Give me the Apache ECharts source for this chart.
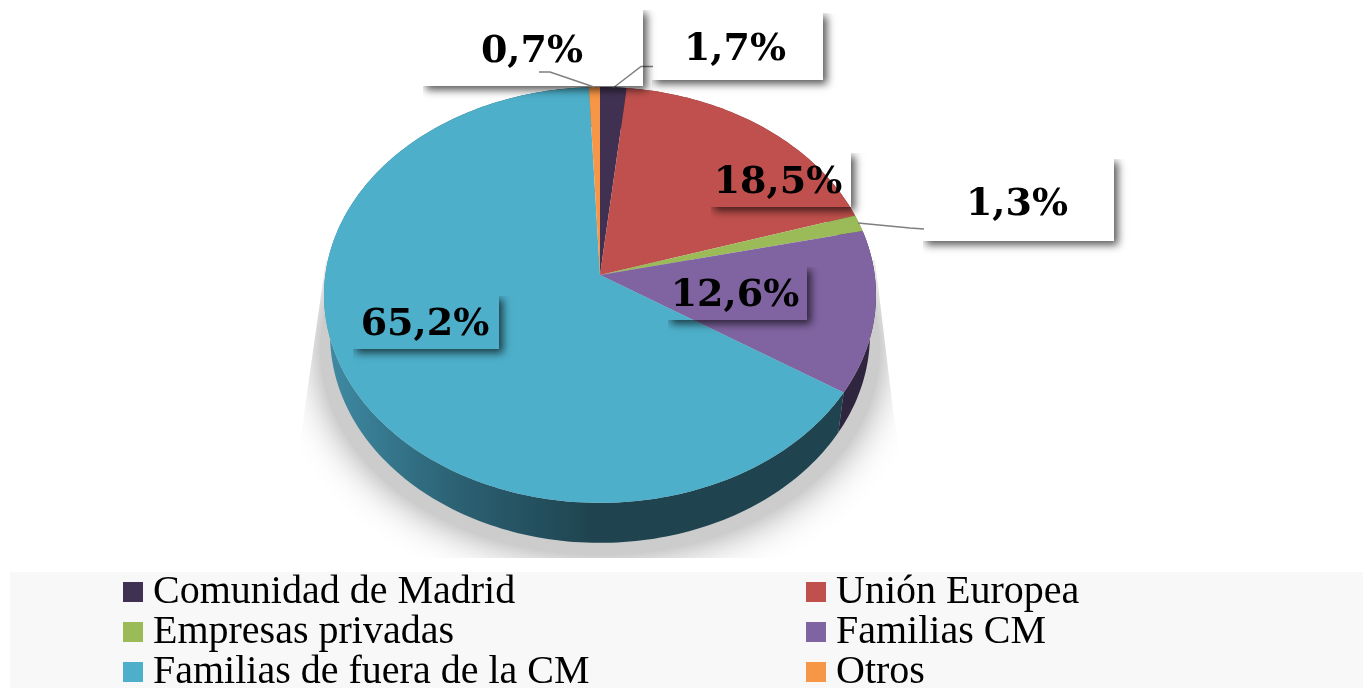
<!DOCTYPE html>
<html>
<head>
<meta charset="utf-8">
<script src="https://cdn.jsdelivr.net/npm/echarts@6/dist/echarts.min.js"></script>
<style>
  body { margin: 0; background: #fff; }
  #chart { width: 1363px; height: 688px; }
</style>
</head>
<body>
<div id="chart"></div>
<script>
// clockwise from 12 o'clock
const categories = ['Comunidad de Madrid', 'Unión Europea', 'Empresas privadas', 'Familias CM', 'Familias de fuera de la CM', 'Otros'];
const shares = [1.7, 18.5, 1.3, 12.6, 65.2, 0.7];
const colors = ['#403152', '#c0504d', '#9bbb59', '#8064a2', '#4dafca', '#f79646'];
const wallColors = ['#2b2138', '#7f3533', '#677c3b', '#30253f', '#1f4450', '#a4642e'];

// label boxes: [x1, y1, x2, y2, text centre x, text centre y]
const labelBoxes = [
  [651, 12, 823, 80, 735, 50],
  [710, 152, 851, 207, 778, 183],
  [922, 158, 1114, 241, 1017, 205],
  [667, 266, 807, 320, 735, 296],
  [352, 295, 499, 349, 425, 325],
  [422, 9, 643, 86, 532, 52]
];
// leader lines, only the three small slices outside the pie have one
const leaderLines = [
  [[653, 66.5], [641, 66.5], [613, 88]],
  null,
  [[858, 223], [910, 228], [924, 229]],
  null,
  null,
  [[539, 72], [550, 72], [594, 87]]
];

// the disc is drawn in perspective, so the apex sits above the middle of the ellipse
const apexX = 600, apexY = 275, kx = 274.7, ky = 206, tilt = 0.096;
const wallDrop = 40, wallScale = 0.978;

function topPoint(pct) {
  const a = pct / 100 * Math.PI * 2;
  const u = Math.sin(a), v = -Math.cos(a);
  const d = 1 - tilt * v;
  return [apexX + kx * u / d, apexY + ky * v / d];
}
function lowPoint(pct) {
  const p = topPoint(pct);
  return [apexX + (p[0] - apexX) * wallScale, p[1] + wallDrop];
}
function arc(fn, from, to) {
  const pts = [];
  const n = Math.max(2, Math.ceil((to - from) * 3));
  for (let i = 0; i <= n; i++) pts.push(fn(from + (to - from) * i / n));
  return pts;
}

let running = 0;
const ranges = shares.map(function (s) {
  const r = [running, running + s];
  running += s;
  return r;
});

function renderWall(params, api) {
  const i = api.value(0);
  const from = ranges[i][0], to = ranges[i][1];
  const pts = arc(topPoint, from, to).concat(arc(lowPoint, from, to).reverse());
  let fill = wallColors[i];
  if (i === 4) {
    fill = new echarts.graphic.LinearGradient(325, 0, 590, 0, [
      { offset: 0, color: '#3f8ba4' },
      { offset: 0.5, color: '#2b6173' },
      { offset: 1, color: wallColors[i] }
    ], true);
  }
  return { type: 'polygon', shape: { points: pts }, style: { fill: fill } };
}

function renderShadow() {
  return {
    type: 'ellipse',
    shape: { cx: 600, cy: 350, rx: 280, ry: 205 },
    style: { fill: '#cccccc', shadowBlur: 40, shadowColor: '#999999' },
    clipPath: {
      type: 'polygon',
      shape: { points: [[326, 260], [305, 407], [285, 558], [915, 558], [893, 410], [875, 260]] }
    }
  };
}

function renderFace(params, api) {
  const i = api.value(0);
  const pts = [[apexX, apexY]].concat(arc(topPoint, ranges[i][0], ranges[i][1]));
  return { type: 'polygon', shape: { points: pts }, style: { fill: colors[i] } };
}

function renderLabel(params, api) {
  const i = api.value(0);
  const b = labelBoxes[i];
  const children = [{
    // only the part of the shadow outside the box shows, the box itself has no fill
    type: 'rect',
    shape: { x: b[0], y: b[1], width: b[2] - b[0], height: b[3] - b[1] },
    style: { fill: '#000', shadowBlur: 8, shadowOffsetX: 4, shadowOffsetY: 4, shadowColor: 'rgba(0,0,0,0.65)' },
    clipPath: {
      type: 'polygon',
      shape: {
        points: [
          [b[2], b[1] + 1], [b[2] + 20, b[1] + 1], [b[2] + 20, b[3] + 20],
          [b[0] + 1, b[3] + 20], [b[0] + 1, b[3]], [b[2], b[3]]
        ]
      }
    }
  }];
  if (leaderLines[i]) {
    children.push({
      type: 'polyline',
      shape: { points: leaderLines[i] },
      style: { fill: null, stroke: '#7f7f7f', lineWidth: 1.5 }
    });
  }
  children.push({
    type: 'text',
    style: {
      x: b[4], y: b[5],
      text: shares[i].toFixed(1).replace('.', ',') + '%',
      fill: '#000',
      font: 'bold 38px "DejaVu Serif"',
      align: 'center',
      verticalAlign: 'middle'
    }
  });
  return { type: 'group', children: children };
}

const allRows = categories.map(function (c, i) { return [i]; });

const faceSeries = categories.map(function (c, i) {
  return {
    name: c,
    type: 'custom',
    coordinateSystem: 'none',
    renderItem: renderFace,
    data: [[i]],
    itemStyle: { color: colors[i] },
    silent: true,
    z: 4
  };
});

const legendText = { fontFamily: 'Liberation Serif', fontSize: 40, color: '#000', lineHeight: 32, padding: [8, 0, 0, 5] };

const chart = echarts.init(document.getElementById('chart'));
chart.setOption({
  animation: false,
  graphic: [{
    type: 'rect',
    shape: { x: 10, y: 572, width: 1353, height: 116 },
    style: { fill: '#f8f8f8' },
    silent: true
  }],
  legend: [
    {
      data: [categories[0], categories[2], categories[4]],
      orient: 'vertical', left: 123, top: 572, height: 130, padding: 0,
      icon: 'rect', itemWidth: 20, itemHeight: 20, itemGap: 0,
      selectedMode: false, textStyle: legendText
    },
    {
      data: [categories[1], categories[3], categories[5]],
      orient: 'vertical', left: 806, top: 572, height: 130, padding: 0,
      icon: 'rect', itemWidth: 20, itemHeight: 20, itemGap: 0,
      selectedMode: false, textStyle: legendText
    }
  ],
  series: [
    { type: 'custom', coordinateSystem: 'none', renderItem: renderShadow, data: [[0]], silent: true, z: 2 },
    { type: 'custom', coordinateSystem: 'none', renderItem: renderWall, data: allRows, silent: true, z: 3 }
  ].concat(faceSeries).concat([
    { type: 'custom', coordinateSystem: 'none', renderItem: renderLabel, data: allRows, silent: true, z: 5 }
  ])
});
</script>
</body>
</html>
